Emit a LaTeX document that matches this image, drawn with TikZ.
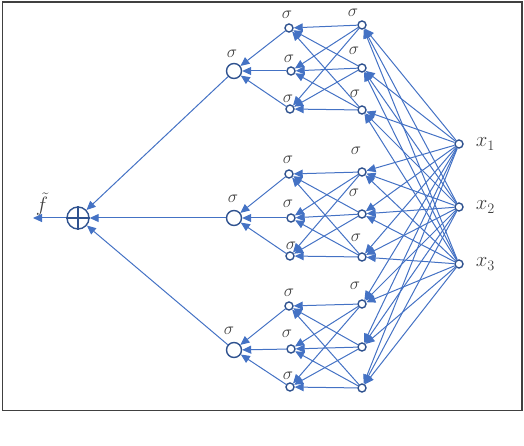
\documentclass[tikz,border=0pt]{standalone}
\usetikzlibrary{arrows.meta}
\definecolor{linkblue}{RGB}{68,114,196}
\definecolor{nodeblue}{RGB}{47,82,143}
\definecolor{framegray}{RGB}{64,64,64}
\tikzset{
 neuron/.style={circle,draw=nodeblue,fill=white,line width=1.4pt,inner sep=0pt,minimum size=8pt},
 bigneuron/.style={neuron,minimum size=15pt},
 sumnode/.style={neuron,minimum size=22pt},
 link/.style={draw=linkblue,line width=1pt,-{Triangle[length=9pt,width=8pt]}},
 sig/.style={text=framegray,inner sep=0pt,font=\fontsize{19}{19}\selectfont},
 xlab/.style={text=framegray,inner sep=0pt,font=\fontsize{20}{20}\selectfont}
}
\begin{document}
\begin{tikzpicture}[x=1pt,y=-1pt]
 \useasboundingbox (0,0) rectangle (524,446);
 \draw[framegray,line width=1.8pt] (2.5,2) rectangle (522,410.5);
 % output side
 \node[sumnode] (sum) at (78,218) {};
 \draw[nodeblue,line width=1.4pt] (sum.north)--(sum.south) (sum.west)--(sum.east);
 \coordinate (out) at (33,218);
 \node[xlab] (ftil) at (42,204) {$\tilde{f}$};
 % inputs
 \foreach \k/\y in {1/144,2/207,3/264}
   \node[neuron,label={[xlab,label distance=12pt]right:$x_\k$}] (x\k) at (459,\y) {};
 % the three groups
 \foreach \g/\yh/\ya/\yb/\yc/\ra/\rb/\rc in {1/71/28/71/109/25/68/110,2/218/174/218/256/172/214/257,3/350/306/349/387/304/347/388}{
   \node[bigneuron] (h\g) at (234,\yh) {};
   \node[neuron] (a\g1) at (289,\ya) {};
   \node[neuron] (a\g2) at (291,\yb) {};
   \node[neuron] (a\g3) at (290,\yc) {};
   \node[neuron] (b\g1) at (362,\ra) {};
   \node[neuron] (b\g2) at (362,\rb) {};
   \node[neuron] (b\g3) at (362,\rc) {};
 }
 % sigma labels
 \foreach \n/\x/\y in {sh1/232/54,sh2/233/199,sh3/229/331,
   sa11/287/15,sa12/289/59,sa13/288/99,sb11/353/13,sb12/354/51,sb13/355/94,
   sa21/288/160,sa22/288/204,sa23/291/246,sb21/356/151,sb22/354/193,sb23/356/238,
   sa31/289/293,sa32/287/334,sa33/288/376,sb31/355/286}
   \node[sig] (\n) at (\x,\y) {$\sigma$};
 % connections
 \draw[link] (sum) -- (out);
 \foreach \g in {1,2,3}{
   \draw[link] (h\g) -- (sum);
   \foreach \i in {1,2,3}{
     \draw[link] (a\g\i) -- (h\g);
     \foreach \j in {1,2,3} \draw[link] (b\g\j) -- (a\g\i);
     \foreach \k in {1,2,3} \draw[link] (x\k) -- (b\g\i);
   }
 }
\end{tikzpicture}
\end{document}
